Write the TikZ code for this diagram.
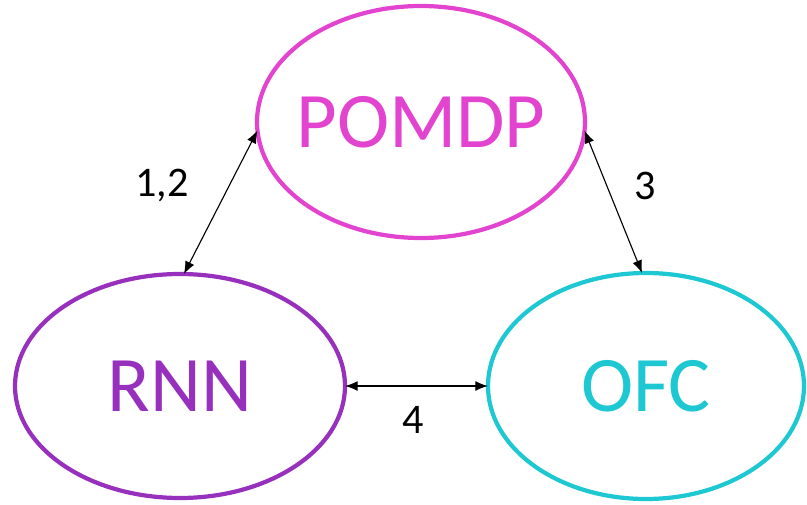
\documentclass[tikz,border=0pt]{standalone}
\usepackage{fontspec}
\setmainfont{Carlito}
\usetikzlibrary{positioning,shapes.geometric,arrows.meta}
\definecolor{pomdpcol}{RGB}{226,68,208}
\definecolor{rnncol}{RGB}{152,48,190}
\definecolor{ofccol}{RGB}{30,200,210}

\begin{document}
\begin{tikzpicture}[
    state/.style={draw, ellipse, inner sep=0pt, outer sep=0pt, line width=3pt, font=\fontsize{56}{58}\selectfont},
    arrow/.style={{Latex[length=9pt,width=7pt]}-{Latex[length=9pt,width=7pt]}, line width=0.8pt},
    lbl/.style={font=\fontsize{30}{32}\selectfont}
]
    \useasboundingbox (0,0) rectangle (20.175,12.6);

    % Ellipses
    \node[state, pomdpcol, minimum width=8.2cm, minimum height=5.8cm] (pomdp) at (10.525,9.55) {\makebox[0pt]{POMDP}};
    \node[state, rnncol, minimum width=8.25cm, minimum height=5.6cm] (rnn) at (4.5,2.95) {\makebox[0pt]{RNN}};
    \node[state, ofccol, minimum width=7.9cm, minimum height=5.65cm] (ofc) at (16.15,2.95) {\makebox[0pt]{OFC}};

    % Arrows
    \draw[arrow] (pomdp.183) -- (rnn.88);
    \draw[arrow] (pomdp.357) -- (ofc.92);
    \draw[arrow] (rnn.east) -- (ofc.west);

    % Labels
    \node[lbl] (l12) at (4.05,7.95) {1,2};
    \node[lbl] (l3) at (16.125,7.95) {3};
    \node[lbl] (l4) at (10.325,2.1) {4};
\end{tikzpicture}
\end{document}
